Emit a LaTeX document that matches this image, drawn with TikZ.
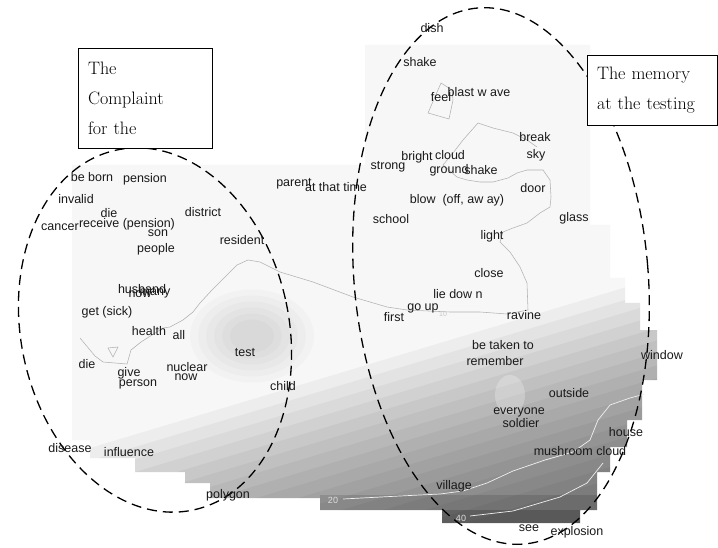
\documentclass[tikz,border=0pt]{standalone}
\usepackage{fontspec}
\newfontfamily\wordfont{Liberation Sans}
\begin{document}
\begin{tikzpicture}[x=1pt,y=-1pt,
  wd/.style={font=\wordfont\fontsize{12.5}{14}\selectfont, inner sep=0pt, text=black!90},
  lbl/.style={font=\wordfont\fontsize{9}{10}\selectfont, inner sep=0pt, text=gray!25},
  contour/.style={draw=gray!60, line width=0.55pt},
  wcontour/.style={draw=gray!12, line width=0.7pt},
  grouping/.style={draw=black, line width=1.3pt, dash pattern=on 10pt off 6pt},
  titlebox/.style={draw=black, line width=0.8pt, fill=white, font=\fontsize{18}{30}\selectfont, align=left, inner xsep=10pt, inner ysep=0pt}
]
\path[use as bounding box, fill=white] (0,0) rectangle (718,548);

% ---------- density map ----------
\begin{scope}
\clip (365,45) -- (590,45) -- (590,225) -- (610,225) -- (610,278) -- (625,278) -- (625,303) -- (640,303) -- (640,330) -- (657,330) -- (657,380) -- (642,380) -- (642,420) -- (627,420) -- (627,447) -- (610,447) -- (610,472) -- (597,472) -- (597,510) -- (580,510) -- (580,523) -- (442,523) -- (442,510) -- (320,510) -- (320,498) -- (210,498) -- (210,483) -- (185,483) -- (185,472) -- (135,472) -- (135,458) -- (90,458) -- (90,440) -- (72,440) -- (72,165) -- (365,165) -- cycle;
\fill[gray!6] (0,0) rectangle (718,548);
\foreach \k in {1,...,16}{
  \pgfmathsetmacro\yk{342.5+12.5*\k}
  \fill[black, opacity=0.04] (0,{\yk+120}) -- (718,{\yk-95.4}) -- (718,548) -- (0,548) -- cycle;
}
\foreach \r in {62,54,46,38,30,22}{
  \fill[black, opacity=0.018] (252,336) ellipse [x radius=\r, y radius={0.75*\r}];
}
\fill[white, opacity=0.25] (510,395) ellipse [x radius=15, y radius=20];
\fill[black, opacity=0.12] (320,495) rectangle (597,510);
\fill[black, opacity=0.28] (442,510) rectangle (580,523);
\end{scope}

% ---------- contour lines ----------
\draw[contour] (80,338) -- (95,356) -- (103,362) -- (127,364) -- (131,350) -- (141,342) -- (163,328) -- (170,327) -- (183,320) -- (193,312) -- (200,303) -- (212,290) -- (227,275) -- (237,265) -- (248,260) -- (260,262) -- (280,272) -- (313,282) -- (353,297) -- (387,307) -- (407,310) -- (450,312) -- (480,312) -- (507,314) -- (528,310) -- (527,283) -- (520,267) -- (510,252) -- (500,242) -- (503,232) -- (513,228) -- (527,223) -- (540,213) -- (550,207) -- (551,197) -- (550,180) -- (543,170) -- (527,170) -- (517,173) -- (508,178) -- (493,182) -- (480,182) -- (467,180) -- (457,177) -- (443,165) -- (453,153) -- (463,140) -- (478,123) -- (493,128) -- (513,133) -- (527,140) -- (537,147);
\draw[contour] (441,83) -- (428,113) -- (449,119) -- (453,100) -- (452,90) -- cycle;
\draw[contour] (108,348) -- (118,347) -- (113,357) -- cycle;
\draw[wcontour] (343,499) -- (400,496) -- (440,494) -- (463,491) -- (487,483) -- (513,471) -- (545,460) -- (573,452) -- (590,440) -- (598,420) -- (610,405) -- (630,398) -- (645,394);
\draw[wcontour] (470,516) -- (513,511) -- (560,497) -- (587,483) -- (603,463);
\node[lbl] (c20) at (333,500) {20};
\node[lbl] (c40) at (461,518) {40};
\node[lbl, text=gray!45, font=\wordfont\fontsize{7}{8}\selectfont] (c10) at (443,314) {10};

% ---------- group ellipses ----------
\draw[grouping, rotate around={12:(155,330)}] (155,330) ellipse [x radius=134, y radius=184];
\draw[grouping, rotate around={5:(501,276)}] (501,276) ellipse [x radius=147, y radius=269];

% ---------- title boxes ----------
\node[titlebox, text width=114pt, minimum width=134pt, minimum height=100pt] (complaint) at (145,98) {The\\Complaint\\for the};
\node[titlebox, text width=110pt, minimum width=130pt, minimum height=70pt] (memory) at (652,90) {The memory\\at the testing};

% ---------- words: complaint group ----------
\node[wd] (beborn) at (92,177) {be born};
\node[wd] (pension) at (145,179) {pension};
\node[wd] (invalid) at (76,199) {invalid};
\node[wd] (dieA) at (109,213) {die};
\node[wd] (cancer) at (60,227) {cancer};
\node[wd] (receive) at (127,224) {receive (pension)};
\node[wd] (district) at (203,212) {district};
\node[wd] (son) at (158,233) {son};
\node[wd] (resident) at (242,240) {resident};
\node[wd] (people) at (156,249) {people};
\node[wd] (husband) at (142,289) {husband};
\node[wd] (nowA) at (140,294) {now};
\node[wd] (many) at (155,293) {many};
\node[wd] (getsick) at (107,312) {get (sick)};
\node[wd] (health) at (149,331) {health};
\node[wd] (all) at (179,335) {all};
\node[wd] (test) at (245,353) {test};
\node[wd] (dieB) at (87,364) {die};
\node[wd] (give) at (129,373) {give};
\node[wd] (person) at (138,384) {person};
\node[wd] (nuclear) at (187,367) {nuclear};
\node[wd] (nowB) at (186,377) {now};
\node[wd] (child) at (283,386) {child};
\node[wd] (disease) at (70,448) {disease};
\node[wd] (influence) at (129,452) {influence};
\node[wd] (polygon) at (228,495) {polygon};
\node[wd] (parent) at (294,184) {parent};
\node[wd] (atthattime) at (336,187) {at that time};

% ---------- words: memory group ----------
\node[wd] (dish) at (432,28) {dish};
\node[wd] (shakeA) at (420,62) {shake};
\node[wd] (feel) at (441,97) {feel};
\node[wd] (blastwave) at (479,92) {blast w ave};
\node[wd] (break) at (535,137) {break};
\node[wd] (sky) at (536,155) {sky};
\node[wd] (strong) at (388,167) {strong};
\node[wd] (bright) at (417,157) {bright};
\node[wd] (cloud) at (450,155) {cloud};
\node[wd] (ground) at (449,170) {ground};
\node[wd] (shakeB) at (481,170) {shake};
\node[wd] (door) at (533,188) {door};
\node[wd] (blow) at (457,200) {blow\ \ (off, aw ay)};
\node[wd] (school) at (391,219) {school};
\node[wd] (glass) at (574,218) {glass};
\node[wd] (light) at (492,236) {light};
\node[wd] (close) at (489,273) {close};
\node[wd] (liedown) at (458,294) {lie dow n};
\node[wd] (goup) at (423,308) {go up};
\node[wd] (first) at (394,317) {first};
\node[wd] (ravine) at (524,315) {ravine};
\node[wd] (betaken) at (503,345) {be taken to};
\node[wd] (remember) at (495,361) {remember};
\node[wd] (window) at (662,355) {window};
\node[wd] (outside) at (569,393) {outside};
\node[wd] (everyone) at (519,412) {everyone};
\node[wd] (soldier) at (521,423) {soldier};
\node[wd] (house) at (626,432) {house};
\node[wd] (mushroom) at (580,451) {mushroom cloud};
\node[wd] (village) at (454,486) {village};
\node[wd] (see) at (529,528) {see};
\node[wd] (explosion) at (577,532) {explosion};
\end{tikzpicture}
\end{document}
